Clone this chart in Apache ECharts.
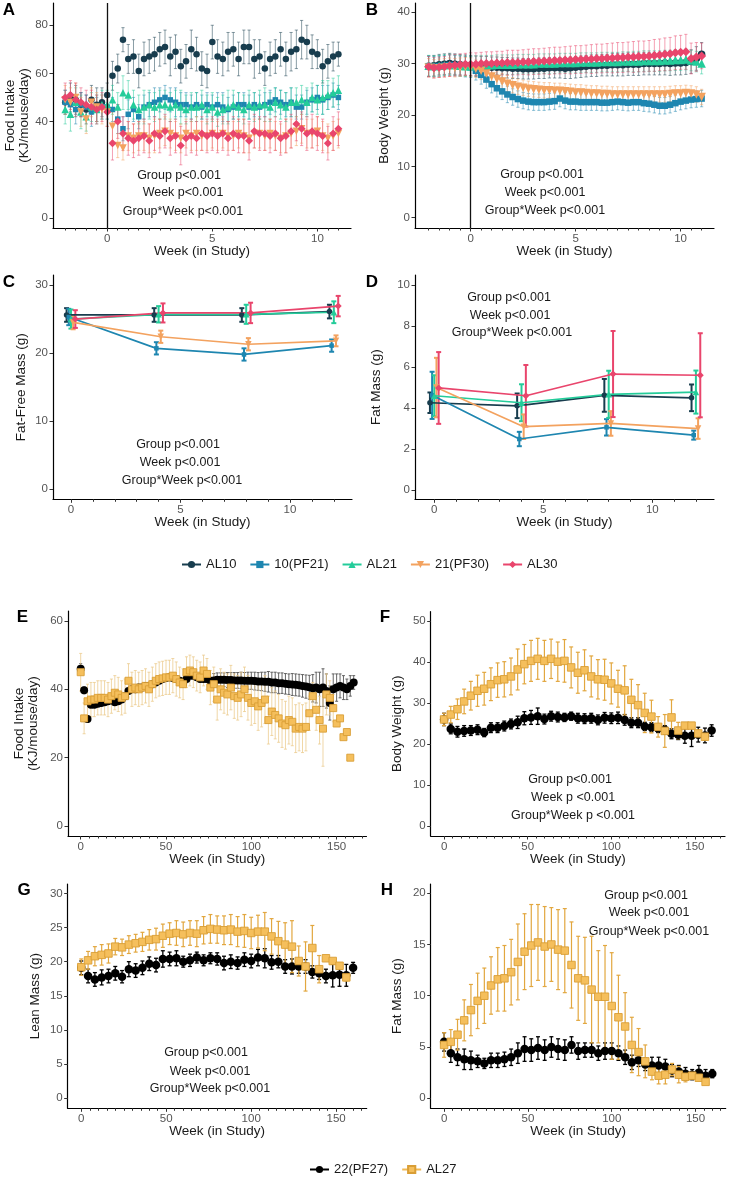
<!DOCTYPE html>
<html><head><meta charset="utf-8">
<script src="https://cdn.jsdelivr.net/npm/echarts@6/dist/echarts.min.js"></script>
<style>html,body{margin:0;padding:0;background:#fff}#c{width:733px;height:1180px}</style>
</head><body><div id="c"></div>
<script>
// ---------------- DATA ----------------
// Panels A/B: week grid
const weeksAB = [-2,-1.75,-1.5,-1.25,-1,-0.75,-0.5,-0.25,0,0.25,0.5,0.75,1,1.25,1.5,1.75,2,2.25,2.5,2.75,3,3.25,3.5,3.75,4,4.25,4.5,4.75,5,5.25,5.5,5.75,6,6.25,6.5,6.75,7,7.25,7.5,7.75,8,8.25,8.5,8.75,9,9.25,9.5,9.75,10,10.25,10.5,10.75,11];
// A: food intake (KJ/mouse/day)
const fiAL10 = [48,50,49,47,45,49,47,48, 51, 59,62,74,66,67,61,66,67,68,70, 71,67,69,63,65,70,68,62,61,73, 67,66,69,70,66,71,71,66,67,62, 66,67,70,66,69,70,74,73,69,68, 63,65,67,68];
const fiAL10err = [5,6,6,5,6,6,7,6, 5, 6,6,5,6,7,7,7,7,7,7, 7,8,7,7,7,8,7,7,7,7, 7,7,8,7,7,7,7,8,7,7, 7,7,7,7,8,8,8,7,7,6, 7,7,6,5];
const fiPF21 = [48,47,45,47,46,44,45,46, 46, 45,41,37,43,45,42,46,47,48,49, 50,49,48,47,47,46,47,46,47,46, 47,46,45,46,47,47,46,47,46,47, 48,49,48,47,48,46,46,48,49,50, 49,50,51,50];
const fiPF21err = [5,5,6,5,5,6,5,5, 5, 5,6,5,6,5,5,5,5,6,5, 5,5,6,5,5,5,5,5,5,5, 5,6,5,5,5,5,5,5,5,5, 5,5,5,5,6,5,5,5,5,5, 6,5,5,5];
const fiAL21 = [45,43,48,44,42,46,45,47, 47, 49,46,52,51,47,45,46,47,46,47, 47,46,47,46,45,46,46,47,45,46, 44,45,46,47,46,45,47,46,47,47, 46,48,47,46,48,48,49,48,50,49, 50,51,52,53];
const fiAL21err = [6,7,6,7,6,6,6,6, 6, 6,6,7,6,6,6,7,6,6,6, 6,6,6,7,6,6,6,6,6,6, 6,6,7,6,6,6,6,6,6,7, 6,6,6,6,6,6,6,6,6,6, 7,6,6,6];
const fiPF30 = [49,48,50,44,41,48,46,45, 44, 38,30,29,34,33,34,34,33,34,35, 36,35,34,33,35,34,35,34,34,35, 34,35,34,34,35,34,33,35,35,34, 35,34,33,34,35,36,37,35,35,36, 34,33,34,35];
const fiPF30err = [6,6,6,6,6,6,6,6, 6, 6,5,5,6,6,6,6,6,7,6, 6,6,6,6,6,6,7,6,6,6, 6,6,6,6,6,7,6,6,6,6, 6,6,6,7,6,6,6,6,6,6, 6,6,6,6];
const fiAL30 = [50,51,49,48,47,46,45,46, 44, 31,40,35,33,32,33,34,32,35,34, 36,33,34,30,33,34,33,35,34,35, 34,35,33,35,34,34,32,36,35,35, 34,35,33,34,36,39,37,35,36,35, 34,31,35,37];
const fiAL30err = [6,6,7,6,6,7,6,6, 6, 7,7,7,7,7,7,7,7,7,7, 7,7,7,8,7,7,7,7,7,7, 7,7,7,7,7,7,8,7,7,7, 7,7,7,7,7,7,7,7,7,7, 7,7,7,7];
// B: body weight (g)
const bwAL10 = [29.5,29.6,29.8,29.9,30.0,29.9,29.8,29.7, 29.6, 29.5,29.4,29.4,29.3,29.3,29.2,29.2,29.1,29.1,29.0, 29.0,29.0,29.1,29.1,29.2,29.2,29.2,29.1,29.2,29.3, 29.4,29.5,29.6,29.6,29.7,29.7,29.8,29.8,29.8,29.9, 29.9,29.9,30.0,30.0,30.0,30.0,30.1,30.0,30.1,30.1, 30.2,30.4,31.0,31.8];
const bwAL10err = [2,2,2,2,2,2,2,2, 2, 2,2,2,2,2,2,2,2,2,2, 2,2,2,2,2,2,2,2,2.1,2.1, 2.1,2.1,2.1,2.1,2.1,2.1,2.2,2.2,2.2,2.2, 2.2,2.2,2.2,2.2,2.2,2.2,2.3,2.3,2.3,2.3, 2.3,2.3,2.3,2.3];
const bwPF21 = [29.5,29.4,29.5,29.6,29.7,29.6,29.5,29.4, 29.3, 28.6,27.8,26.9,26.0,25.2,24.6,24.0,23.5,23.1,22.8, 22.6,22.5,22.5,22.5,22.6,22.7,23.2,22.8,22.6,22.6, 22.5,22.5,22.5,22.5,22.4,22.4,22.5,22.6,22.5,22.4, 22.5,22.5,22.3,22.2,22.0,21.8,21.8,22.0,22.3,22.6, 22.8,23.0,23.1,23.2];
const bwPF21err = [2,2,2,2,2,2,2,2, 2, 1.8,1.8,1.7,1.7,1.7,1.6,1.6,1.6,1.6,1.6, 1.6,1.6,1.6,1.6,1.6,1.6,1.6,1.6,1.6,1.6, 1.6,1.6,1.6,1.6,1.6,1.6,1.6,1.6,1.6,1.6, 1.6,1.6,1.6,1.6,1.6,1.6,1.6,1.6,1.6,1.6, 1.6,1.6,1.6,1.6];
const bwAL21 = [29.6,29.5,29.6,29.7,29.8,29.7,29.6,29.5, 29.5, 29.6,29.7,29.7,29.7,29.8,29.8,29.8,29.8,29.9,29.9, 29.9,29.9,30.0,30.0,30.0,30.0,30.1,30.1,30.1,30.1, 30.2,30.2,30.2,30.2,30.3,30.3,30.3,30.3,30.4,30.4, 30.4,30.4,30.5,30.5,30.5,30.5,30.6,30.6,30.7,30.7, 30.8,30.6,30.4,30.0];
const bwAL21err = [2,2,2,2,2,2,2,2, 1.9, 1.9,1.9,1.9,1.9,1.9,1.9,1.9,1.9,1.9,1.9, 1.9,1.9,1.9,1.9,1.9,1.9,1.9,1.9,1.9,1.9, 1.9,1.9,1.9,1.9,1.9,1.9,1.9,1.9,1.9,1.9, 2,2,2,2,2,2,2,2,2,2, 2,2,2,2];
const bwPF30 = [29.2,29.0,29.1,29.2,29.3,29.2,29.3,29.4, 29.3, 29.0,28.6,28.1,27.5,27.0,26.5,26.1,25.8,25.5,25.3, 25.1,25.0,24.9,24.8,24.8,24.7,24.7,24.6,24.5,24.4, 24.4,24.3,24.2,24.2,24.1,24.1,24.0,24.0,24.0,24.0, 24.0,24.0,24.0,24.0,24.0,24.0,24.0,24.1,24.2,24.2, 24.3,24.2,24.0,23.5];
const bwPF30err = [1.8,1.8,1.8,1.8,1.8,1.8,1.8,1.8, 1.8, 1.7,1.7,1.7,1.6,1.6,1.6,1.6,1.5,1.5,1.5, 1.5,1.5,1.5,1.5,1.5,1.5,1.5,1.5,1.5,1.5, 1.5,1.5,1.5,1.5,1.5,1.5,1.5,1.5,1.5,1.5, 1.5,1.5,1.5,1.5,1.5,1.5,1.5,1.5,1.5,1.5, 1.5,1.5,1.5,1.5];
const bwAL30 = [29.4,29.2,29.3,29.4,29.6,29.7,29.8,29.9, 29.9, 29.9,30.0,30.0,30.0,30.1,30.1,30.2,30.2,30.2,30.3, 30.3,30.4,30.4,30.5,30.5,30.6,30.6,30.7,30.7,30.8, 30.8,30.9,30.9,31.0,31.0,31.1,31.1,31.2,31.2,31.3, 31.3,31.4,31.4,31.5,31.6,31.7,31.8,31.9,32.1,32.2, 32.3,31.0,31.3,31.5];
const bwAL30err = [2,2,2,2,2.1,2.1,2.1,2.1, 2.2, 2.2,2.2,2.3,2.3,2.3,2.3,2.4,2.4,2.4,2.4, 2.5,2.5,2.5,2.5,2.6,2.6,2.6,2.6,2.7,2.7, 2.7,2.7,2.8,2.8,2.8,2.8,2.9,2.9,2.9,2.9, 3,3,3,3,3.1,3.1,3.2,3.2,3.3,3.3, 3.4,3,2.8,2.5];

// Panels C/D: measurement weeks
const weeksCD = [0,4,8,12];
const ffmAL10 = [25.6,25.6,25.6,26.1], ffmAL10err = [1.0,1.0,1.0,1.0];
const ffmPF21 = [25.3,20.7,19.8,21.1], ffmPF21err = [1.2,0.9,0.9,0.9];
const ffmAL21 = [25.0,25.7,25.7,26.0], ffmAL21err = [1.4,1.2,1.4,1.6];
const ffmPF30 = [24.5,22.4,21.3,21.8], ffmPF30err = [1.0,0.9,0.9,0.8];
const ffmAL30 = [25.0,25.9,25.9,26.9], ffmAL30err = [1.3,1.4,1.5,1.5];
const fmAL10 = [4.26,4.11,4.62,4.50], fmAL10err = [0.5,0.6,0.8,0.65];
const fmPF21 = [4.62,2.49,3.06,2.68], fmPF21err = [1.15,0.35,0.4,0.22];
const fmAL21 = [4.60,4.26,4.67,4.78], fmAL21err = [1.0,0.9,1.15,1.05];
const fmPF30 = [5.00,3.09,3.25,3.00], fmPF30err = [1.45,0.6,0.6,0.5];
const fmAL30 = [4.98,4.60,5.66,5.60], fmAL30err = [1.75,1.5,2.1,2.05];

// Panel E: weekly food intake (every 2 weeks)
const weeksE = [0,2,4,6,8,10,12,14,16,18,20,22,24,26,28,30,32,34,36,38,40,42,44,46,48,50,52,54,56,58,60,62,64,66,68,70,72,74,76,78,80,82,84,86,88,90,92,94,96,98,100,102,104,106,108,110,112,114,116,118,120,122,124,126,128,130,132,134,136,138,140,142,144,146,148,150,152,154,156,158,160];
const fiE_PF27 = [46,39.7,31.3,35.5,35.5,35.8,36,36.2,36.5,36.8, 36.2,36.5,37,38,39.5,40,40,40.5,40.5,41, 41,41.5,42,42.5,43,43.3,43.5,43.3,43,42.5, 41.8,43,44,44,43.5,43,43,43,42.5,42.6, 42.8,42.8,42.8,42.7,42.7,42.6,42.6,42.6,42.5,42.5, 42.5,42.4,42.3,42.3,42.2,42.2,42,42,41.8,41.8, 41.6,41.5,41.4,41.3,41.2,41,40.8,40.6,40.3,40.5, 40,40.5,39.5,36,40,40.5,41,40.5,40,41, 42];
const fiE_PF27err = [1.5,1,1,0.8,0.8,0.8,0.8,0.8,0.8,0.8, 0.8,0.8,0.8,0.8,0.8,0.8,0.8,0.8,0.8,0.8, 0.8,0.8,0.8,0.8,0.8,0.8,0.8,0.8,0.8,0.8, 0.8,0.8,0.8,0.8,0.8,0.8,0.8,0.8,1,2, 2,2,2,2.2,2.2,2.3,2.3,2.4,2.4,2.5, 2.5,2.6,2.6,2.7,2.8,3,3,3,3,3, 3,3,3.2,3.2,3.2,3.3,3.4,3.5,4,4.5, 5,5.5,5,5,4.5,4,3.5,3.5,3,3, 2];
const fiE_AL27 = [45,31.5,36.5,37,37,37.5,37.5,37.5,37,38, 39,38.5,37.5,38,42.5,40,40.5,40,40.5,41, 40,41.5,42.5,43,43.2,43.5,43.5,44,43,42, 41.5,45,45.5,45,44,43.5,45.5,44.5,40.5,41.5, 37,40,39,38.5,40.5,38,37.5,38.5,40,37.5, 36,36.5,35,36,37,31,33.5,32.5,31.5,30, 29.5,31,30.5,28.5,29,28.5,29,33,38,34, 31,28.5,38.5,37.5,34.5,30,31.5,26,27.5,20];
const fiE_AL27err = [5.5,4.5,5,5,5,5,5,5,5,5, 5,5,5,5,5,5,5,5,5,5, 5,5,5,5,5,5,5,5,5,4.5, 4.5,4.5,4.5,4.5,4.5,4.5,4.5,4.5,5,5, 6,6,6,6,6.5,6.5,6.5,6.5,6.5,6.5, 6.5,6.5,7,7,7,7,7,7,7,7, 7,7,7,7,7,7,7,5,4,6, 7,11,6,5,4,0,0,0,0,0];

// Panels F/G/H: every 4 weeks
const weeksFGH = [0,4,8,12,16,20,24,28,32,36,40,44,48,52,56,60,64,68,72,76,80,84,88,92,96,100,104,108,112,116,120,124,128,132,136,140,144,148,152,156,160];
const bwF_PF27 = [26,23.7,23,23.2,23.3,23.5,22.8,24,24,24.4, 24.9,25.3,26.3,26.5,26.8,26.1,26.8,26.6,26.5,26.8, 26.3,26.2,26.3,25.9,26.4,26.3,26.4,25.9,25.2,25.2, 24.3,24.1,23.8,23.5,22.5,22.3,22,22,22.3,22.1, 23.3];
const bwF_PF27err = [1.5,1.2,1.3,1.3,1.2,1.2,1,1.2,1.2,1.2, 1.2,1.5,1.6,1.7,2,1.2,1.2,1.2,1,1, 1.2,1.2,1.2,1.2,1.3,1.3,1.4,1.3,1.2,1.2, 1,1.1,1,1,1.2,1.2,1.8,2.6,1.8,1.8, 1.4];
const bwF_AL27 = [26,27.2,28.5,30.4,31.8,33,33.5,34.6,35.6,35.8, 36.5,38.2,39.5,40.3,40.8,40.3,40.8,40.1,40.3,38.7, 37.4,38,36.5,35.8,35.7,34.8,33.5,33.1,30.8,29.5, 27.6,26.7,24.2,23.2,26.5,23.3,24.5,24.5,22.6,21.8];
const bwF_AL27err = [1.5,2,2.5,3,3.5,3.8,4,4,4.2,4.3, 4.5,5,4.8,5,5,5,4.8,4.8,5.2,5, 5,5,5,4.8,5,5,4.5,6,5,5, 4.8,4,2.5,4,4.3,2,0,0,0.5,0.8];
const lmG_PF27 = [19.1,17.9,17.4,17.7,17.9,18.3,17.8,18.9,18.7,19.1, 19.7,19.5,20.4,20.4,20.5,20,20.2,20.6,20.2,20.5, 20.4,19.8,20,19.8,20.3,20.1,20.6,20.5,19.9,20, 19.3,19.3,19.3,19.3,18.5,18.3,17.9,18,18.1,18, 19.1];
const lmG_PF27err = [1,1,1,1.1,1,1,0.9,1.1,1,1, 1,1,1.2,1,1.1,0.8,0.9,0.8,0.8,0.8, 0.9,1,1,0.9,1,1,1.2,1.4,1,0.9, 1,1.1,1,1,0.9,0.9,1,1.7,1.7,1.6, 0.8];
const lmG_AL27 = [19.2,20.2,20.8,21,21.2,22.2,22.1,22.5,22.7,22.9, 23.2,23.3,23.8,24.1,24.2,24,24.2,24.1,24.6,24.8, 24.7,24.6,24.7,24.4,24.5,24.2,24.4,24.4,23.7,23, 22.5,22.2,20.1,19.3,22,18.9,20.5,20.1,19.4,17.7];
const lmG_AL27err = [1.2,1.3,1.4,1.5,1.4,1.2,1.2,1.3,1.3,1.4, 1.5,1.6,1.7,1.6,1.8,1.8,1.8,1.9,2,2.1, 2,2.1,2.2,2.2,2.4,2.3,2.4,2.8,2.6,2.9, 3.2,3.8,2.2,3.6,3.3,2,0,0,0,0.5];
const fmH_PF27 = [5.5,4.4,4,3.8,3.7,3.6,3.4,3.7,3.7,3.8, 4,4.4,4.8,4.7,4.9,4.7,5,4.8,4.7,5.2, 4.6,4.7,4.7,4.4,4.6,4.6,4.4,4,3.5,3.7, 3.3,3.2,3.2,3.1,2.7,2.6,2.4,2.3,2.5,2.2, 2.4];
const fmH_PF27err = [0.9,0.9,0.8,1,0.9,0.6,0.5,0.7,0.7,0.7, 0.8,1,1.2,1.1,1.1,1,1,1,1,0.8, 0.8,0.7,0.7,0.7,0.8,0.8,0.7,0.7,0.7,0.6, 0.6,0.8,0.8,0.7,0.6,0.6,0.6,0.5,0.7,0.6, 0.4];
const fmH_AL27 = [5.2,5.5,6.2,7.6,8.6,9.5,10,11,11.6,11.7, 12.3,13.3,14.3,14.9,15.2,14.8,15,14.5,14.4,13, 11.7,11.5,10.6,9.9,9.9,9,7.9,7,5.2,4.5, 3.6,2.6,2.2,2.3,2.8,2.3,2.1,2.2,2,1.6];
const fmH_AL27err = [1.2,1.2,1.5,2,2.5,2.7,2.7,2.8,3.1,3.2, 3.2,3.7,3.7,4,3.7,3.9,3.6,3.9,4.1,4.2, 4.1,4.2,5.2,4.5,5,5.2,4.1,3.3,2.7,2.3, 1.6,0.8,0.8,0.9,0.6,0.8,0.5,0,0,0];

// Tick values
const ticksAB_major = [0,5,10];
const ticksAB_minor = [-2,-1.5,-1,-0.5,0.5,1,1.5,2,2.5,3,3.5,4,4.5,5.5,6,6.5,7,7.5,8,8.5,9,9.5,10.5,11];
const ticksCD_minor = [1,2,3,4,6,7,8,9,11,12];
const ticksEH_major = [0,50,100,150];
const ticksEH_minor = [5,10,15,20,25,30,35,40,45,55,60,65,70,75,80,85,90,95,105,110,115,120,125,130,135,140,145,155,160,165];
const groups1 = ['AL10','10(PF21)','AL21','21(PF30)','AL30'];
const groups2 = ['22(PF27)','AL27'];

// ---------------- BUILD ----------------
(function check(){
  const n = weeksAB.length;
  [fiAL10,fiAL10err,fiPF21,fiPF21err,fiAL21,fiAL21err,fiPF30,fiPF30err,fiAL30,fiAL30err,
   bwAL10,bwAL10err,bwPF21,bwPF21err,bwAL21,bwAL21err,bwPF30,bwPF30err,bwAL30,bwAL30err].forEach((a,i)=>{ if(a.length!==n) throw new Error('AB len '+i+' '+a.length); });
  if (fiE_PF27.length!==weeksE.length || fiE_PF27err.length!==weeksE.length) throw new Error('E pf');
  if (fiE_AL27.length!==80 || fiE_AL27err.length!==80) throw new Error('E al');
  [bwF_PF27,bwF_PF27err,lmG_PF27,lmG_PF27err,fmH_PF27,fmH_PF27err].forEach((a,i)=>{ if(a.length!==41) throw new Error('FGH pf '+i); });
  [bwF_AL27,bwF_AL27err,lmG_AL27,lmG_AL27err,fmH_AL27,fmH_AL27err].forEach((a,i)=>{ if(a.length!==40) throw new Error('FGH al '+i); });
})();

const FONT = "'Liberation Sans', Arial, Helvetica, sans-serif";
const COL = {AL10:'#183D4E', PF21:'#1E86B0', AL21:'#24CC9A', PF30:'#F3A25F', AL30:'#E9456C'};
const BLACK = '#000000', GOLD = '#F5BF5C', GOLDB = '#D99E35';

const option = {animation:false, textStyle:{fontFamily:FONT}, grid:[], xAxis:[], yAxis:[], series:[], graphic:[]};

function panel(p) {
  const gi = option.grid.length;
  option.grid.push({left:p.left, top:p.top, width:p.width, height:p.height, outerBoundsMode:'none', containLabel:false});
  const xi = option.xAxis.length;
  option.xAxis.push({type:'value', gridIndex:gi, min:p.xmin, max:p.xmax, position:'bottom',
    axisLine:{show:true, onZero:false, lineStyle:{color:'#000', width:1.2}},
    axisTick:{show:true, customValues:p.xMaj, length:3.5, lineStyle:{color:'#333', width:1}},
    axisLabel:{show:true, customValues:p.xMaj, margin:5, fontSize:11.5, color:'#555', fontFamily:FONT},
    splitLine:{show:false},
    name:'Week (in Study)', nameLocation:'middle', nameGap:16, nameMoveOverlap:false,
    nameTextStyle:{fontSize:13.5, color:'#1a1a1a', fontFamily:FONT, verticalAlign:'top'}});
  option.xAxis.push({type:'value', gridIndex:gi, min:p.xmin, max:p.xmax, position:'bottom',
    axisLine:{show:false, onZero:false}, axisTick:{show:true, customValues:p.xMin, length:2.5, lineStyle:{color:'#333', width:1}},
    axisLabel:{show:false}, splitLine:{show:false}});
  const yi = option.yAxis.length;
  option.yAxis.push({type:'value', gridIndex:gi, min:p.ymin, max:p.ymax,
    axisLine:{show:true, onZero:false, lineStyle:{color:'#000', width:1.2}},
    axisTick:{show:true, customValues:p.yMaj, length:3.5, lineStyle:{color:'#333', width:1}},
    axisLabel:{show:true, customValues:p.yMaj, margin:5, fontSize:11.5, color:'#555', fontFamily:FONT},
    splitLine:{show:false},
    name:p.yName, nameLocation:'middle', nameGap:p.yGap,
    nameTextStyle:{fontSize:13.5, color:'#1a1a1a', fontFamily:FONT, lineHeight:14}});
  return {xi, yi};
}

function errSeries(ax, xs, ys, es, color, width, cap, opacity, dx) {
  const data = [];
  for (let i = 0; i < ys.length; i++) {
    if (ys[i] == null) continue;
    data.push([xs[i] + (dx || 0), ys[i], es[i]]);
  }
  option.series.push({type:'custom', xAxisIndex:ax.xi, yAxisIndex:ax.yi, silent:true, z:1,
    encode:{x:0, y:1},
    renderItem: function (params, api) {
      const x = api.value(0), y = api.value(1), e = api.value(2);
      if (!e) return null;
      const p1 = api.coord([x, y + e]), p2 = api.coord([x, y - e]);
      const st = {stroke:color, lineWidth:width, opacity:opacity};
      return {type:'group', children:[
        {type:'line', shape:{x1:p1[0], y1:p1[1], x2:p2[0], y2:p2[1]}, style:st},
        {type:'line', shape:{x1:p1[0]-cap, y1:p1[1], x2:p1[0]+cap, y2:p1[1]}, style:st},
        {type:'line', shape:{x1:p2[0]-cap, y1:p2[1], x2:p2[0]+cap, y2:p2[1]}, style:st}
      ]};
    },
    data});
}

function ptSeries(ax, name, xs, ys, sym, size, color, border, dx, extra) {
  const data = [];
  for (let i = 0; i < ys.length; i++) data.push([xs[i] + (dx || 0), ys[i]]);
  const s = {type:'scatter', name, xAxisIndex:ax.xi, yAxisIndex:ax.yi, silent:true, z:3,
    symbol:sym.s, symbolRotate:sym.r || 0, symbolSize:size,
    itemStyle:{color, borderColor:border || color, borderWidth:border ? 0.9 : 0, opacity:1},
    data};
  if (extra) Object.assign(s, extra);
  option.series.push(s);
}

function lineSeries(ax, name, xs, ys, sym, size, color, dx) {
  const data = [];
  for (let i = 0; i < ys.length; i++) data.push([xs[i] + (dx || 0), ys[i]]);
  option.series.push({type:'line', name, xAxisIndex:ax.xi, yAxisIndex:ax.yi, silent:true, z:2,
    symbol:sym.s, symbolRotate:sym.r || 0, symbolSize:size, showSymbol:true,
    lineStyle:{color, width:1.7}, itemStyle:{color, opacity:1}, data});
}

const SYM = {AL10:{s:'circle'}, PF21:{s:'rect'}, AL21:{s:'triangle'}, PF30:{s:'triangle', r:180}, AL30:{s:'diamond'}};
const SIZE = {AL10:6.5, PF21:5.5, AL21:7.5, PF30:7.5, AL30:8};
const keys = ['AL10','PF21','AL21','PF30','AL30'];
const vline = {markLine:{silent:true, symbol:'none', animation:false, label:{show:false}, lineStyle:{color:'#111', width:1.3, type:'solid'}, data:[{xAxis:0}], z:5}};

// Panel A
const axA = panel({left:53, top:3, width:298, height:225, xmin:-2.58, xmax:11.6, ymin:-4.25, ymax:89.25,
  xMaj:ticksAB_major, xMin:ticksAB_minor, yMaj:[0,20,40,60,80], yName:'Food Intake\n(KJ/mouse/day)', yGap:21});
const A = {AL10:[fiAL10,fiAL10err], PF21:[fiPF21,fiPF21err], AL21:[fiAL21,fiAL21err], PF30:[fiPF30,fiPF30err], AL30:[fiAL30,fiAL30err]};
keys.forEach(k => errSeries(axA, weeksAB, A[k][0], A[k][1], COL[k], 1, 1.6, 0.5));
keys.forEach((k,i) => ptSeries(axA, 'A '+k, weeksAB, A[k][0], SYM[k], SIZE[k], COL[k], null, 0, i === 0 ? vline : null));

// Panel B
const axB = panel({left:415, top:3, width:299, height:225, xmin:-2.65, xmax:11.59, ymin:-2, ymax:41.8,
  xMaj:ticksAB_major, xMin:ticksAB_minor, yMaj:[0,10,20,30,40], yName:'Body Weight (g)', yGap:24});
const B = {AL10:[bwAL10,bwAL10err], PF21:[bwPF21,bwPF21err], AL21:[bwAL21,bwAL21err], PF30:[bwPF30,bwPF30err], AL30:[bwAL30,bwAL30err]};
keys.forEach(k => errSeries(axB, weeksAB, B[k][0], B[k][1], COL[k], 1, 1.6, 0.5));
keys.forEach((k,i) => ptSeries(axB, 'B '+k, weeksAB, B[k][0], SYM[k], SIZE[k]+1, COL[k], null, 0, i === 0 ? vline : null));

// Panels C & D (dodged)
const DODGE = {AL10:-0.2, PF21:-0.1, AL21:0, PF30:0.1, AL30:0.2};
const axC = panel({left:53, top:275, width:299, height:224.3, xmin:-0.82, xmax:12.83, ymin:-1.47, ymax:31.47,
  xMaj:ticksAB_major, xMin:ticksCD_minor, yMaj:[0,10,20,30], yName:'Fat-Free Mass (g)', yGap:25});
const C = {AL10:[ffmAL10,ffmAL10err], PF21:[ffmPF21,ffmPF21err], AL21:[ffmAL21,ffmAL21err], PF30:[ffmPF30,ffmPF30err], AL30:[ffmAL30,ffmAL30err]};
keys.forEach(k => errSeries(axC, weeksCD, C[k][0], C[k][1], COL[k], 2, 2.5, 1, DODGE[k]));
keys.forEach((k,i) => lineSeries(axC, groups1[i], weeksCD, C[k][0], SYM[k], SIZE[k]-1, COL[k], DODGE[k]));

const axD = panel({left:415, top:275, width:299, height:224.3, xmin:-0.885, xmax:12.83, ymin:-0.45, ymax:10.49,
  xMaj:ticksAB_major, xMin:ticksCD_minor, yMaj:[0,2,4,6,8,10], yName:'Fat Mass (g)', yGap:32});
const D = {AL10:[fmAL10,fmAL10err], PF21:[fmPF21,fmPF21err], AL21:[fmAL21,fmAL21err], PF30:[fmPF30,fmPF30err], AL30:[fmAL30,fmAL30err]};
keys.forEach(k => errSeries(axD, weeksCD, D[k][0], D[k][1], COL[k], 2, 2.5, 1, DODGE[k]));
keys.forEach((k,i) => lineSeries(axD, 'D '+k, weeksCD, D[k][0], SYM[k], SIZE[k]-1, COL[k], DODGE[k]));

// Panel E
const axE = panel({left:68, top:611, width:298.5, height:225, xmin:-7.44, xmax:167.5, ymin:-2.9, ymax:62.9,
  xMaj:ticksEH_major, xMin:ticksEH_minor, yMaj:[0,20,40,60], yName:'Food Intake\n(KJ/mouse/day)', yGap:28});
errSeries(axE, weeksE, fiE_PF27, fiE_PF27err, '#555555', 1, 1.5, 0.9);
errSeries(axE, weeksE, fiE_AL27, fiE_AL27err, '#EBC98A', 1, 1.5, 0.75);
ptSeries(axE, 'E PF27', weeksE, fiE_PF27, {s:'circle'}, 8, BLACK, null);
ptSeries(axE, 'E AL27', weeksE, fiE_AL27, {s:'rect'}, 7, GOLD, GOLDB);

// Panel F
const axF = panel({left:430.7, top:611.7, width:294.3, height:224.3, xmin:-8, xmax:168, ymin:-2.44, ymax:52.3,
  xMaj:ticksEH_major, xMin:ticksEH_minor, yMaj:[0,10,20,30,40,50], yName:'Body Weight (g)', yGap:26});
errSeries(axF, weeksFGH, bwF_PF27, bwF_PF27err, BLACK, 1.3, 2, 1);
errSeries(axF, weeksFGH, bwF_AL27, bwF_AL27err, '#E2A73F', 1.2, 2, 1);
ptSeries(axF, 'F PF27', weeksFGH, bwF_PF27, {s:'circle'}, 8.5, BLACK, null);
ptSeries(axF, 'F AL27', weeksFGH, bwF_AL27, {s:'rect'}, 7.5, GOLD, GOLDB);

// Panel G
const axG = panel({left:67.7, top:884, width:299, height:224.3, xmin:-8, xmax:168, ymin:-1.46, ymax:31.37,
  xMaj:ticksEH_major, xMin:ticksEH_minor, yMaj:[0,5,10,15,20,25,30], yName:'Lean Mass (g)', yGap:25});
errSeries(axG, weeksFGH, lmG_PF27, lmG_PF27err, BLACK, 1.3, 2, 1);
errSeries(axG, weeksFGH, lmG_AL27, lmG_AL27err, '#E2A73F', 1.2, 2, 1);
ptSeries(axG, 'G PF27', weeksFGH, lmG_PF27, {s:'circle'}, 8.5, BLACK, null);
ptSeries(axG, 'G AL27', weeksFGH, lmG_AL27, {s:'rect'}, 7.5, GOLD, GOLDB);

// Panel H
const axH = panel({left:430.7, top:884, width:295, height:224.3, xmin:-8, xmax:168, ymin:-0.98, ymax:20.9,
  xMaj:ticksEH_major, xMin:ticksEH_minor, yMaj:[0,5,10,15,20], yName:'Fat Mass (g)', yGap:26});
errSeries(axH, weeksFGH, fmH_PF27, fmH_PF27err, BLACK, 1.3, 2, 1);
errSeries(axH, weeksFGH, fmH_AL27, fmH_AL27err, '#E2A73F', 1.2, 2, 1);
ptSeries(axH, 'H PF27', weeksFGH, fmH_PF27, {s:'circle'}, 8.5, BLACK, null);
ptSeries(axH, 'H AL27', weeksFGH, fmH_AL27, {s:'rect'}, 7.5, GOLD, GOLDB);

// legend-only series for bottom legend
option.series.push({type:'line', name:groups2[0], xAxisIndex:axH.xi, yAxisIndex:axH.yi, data:[], symbol:'circle', symbolSize:8,
  lineStyle:{color:BLACK, width:2}, itemStyle:{color:BLACK}});
option.series.push({type:'line', name:groups2[1], xAxisIndex:axH.xi, yAxisIndex:axH.yi, data:[], symbol:'rect', symbolSize:7,
  lineStyle:{color:'#F0B955', width:2}, itemStyle:{color:GOLD, borderColor:GOLDB, borderWidth:0.8}});

option.legend = [
  {data:groups1, left:176, top:553, itemWidth:19, itemHeight:9, itemGap:13, selectedMode:false,
   textStyle:{fontSize:13, color:'#1a1a1a', fontFamily:FONT}},
  {data:groups2, left:304, top:1158, itemWidth:19, itemHeight:9, itemGap:13, selectedMode:false,
   textStyle:{fontSize:13, color:'#1a1a1a', fontFamily:FONT}}
];

// Texts: panel letters and statistics
const letters = [['A',9,10],['B',372,10],['C',9,282],['D',372,282],['E',22.5,617],['F',385,617],['G',24,890],['H',387,890]];
letters.forEach(l => option.graphic.push({type:'text', x:l[1], y:l[2], silent:true,
  style:{text:l[0], fill:'#000', fontSize:17, fontWeight:'bold', fontFamily:FONT, align:'center', verticalAlign:'middle', textAlign:'center', textVerticalAlign:'middle'}}));
const notes = [
  ['Group p<0.001',179,176],['Week p<0.001',183,193],['Group*Week p<0.001',183,212],
  ['Group p<0.001',542,175],['Week p<0.001',545,193],['Group*Week p<0.001',545,211],
  ['Group p<0.001',178,445],['Week p<0.001',180,463],['Group*Week p<0.001',182,481],
  ['Group p<0.001',509,298],['Week p<0.001',510,316],['Group*Week p<0.001',512,333],
  ['Group p<0.001',570,780],['Week p <0.001',573,798],['Group*Week p <0.001',573,816],
  ['Group p<0.001',206,1053],['Week p<0.001',210,1072],['Group*Week p<0.001',210,1089],
  ['Group p<0.001',646,896],['Week p<0.001',649,913],['Group*Week p<0.001',649,932]
];
notes.forEach(n => option.graphic.push({type:'text', x:n[1], y:n[2], silent:true,
  style:{text:n[0], fill:'#1a1a1a', fontSize:12.5, fontFamily:FONT, align:'center', verticalAlign:'middle', textAlign:'center', textVerticalAlign:'middle'}}));

const chart = echarts.init(document.getElementById('c'), null, {renderer:'canvas', width:733, height:1180});
chart.setOption(option);
</script></body></html>
